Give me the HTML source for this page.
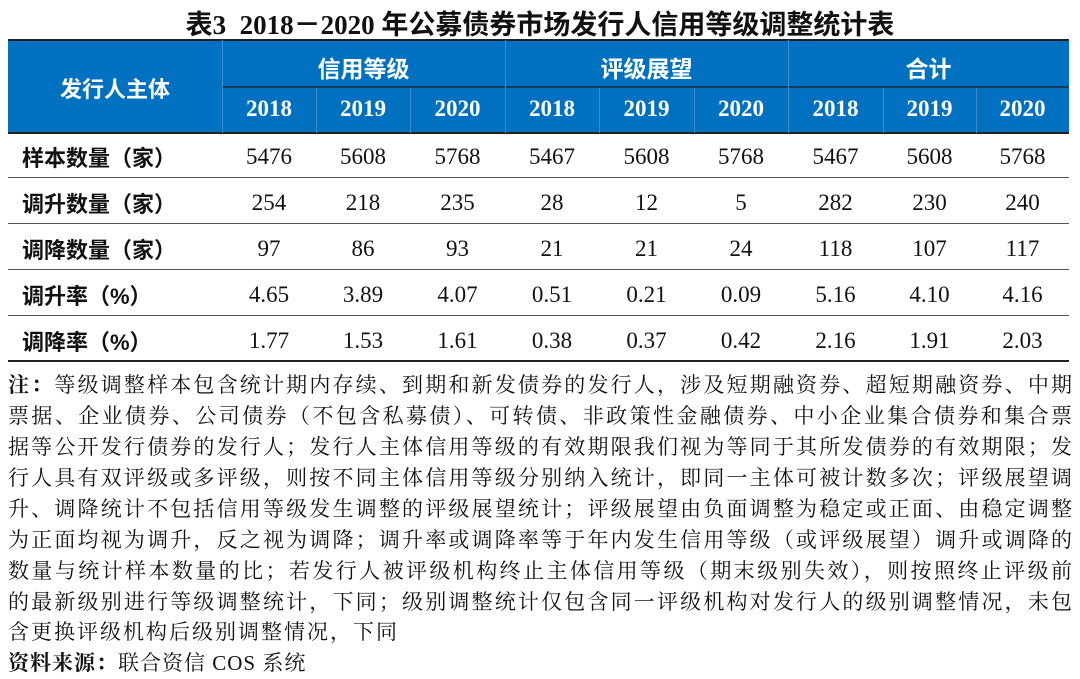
<!DOCTYPE html>
<html><head><meta charset="utf-8"><style>
body{margin:0;width:1080px;height:679px;background:#fff;position:relative;overflow:hidden}
.t{position:absolute;left:0;width:1080px;top:3px;text-align:center;font:bold 27px "Liberation Serif","Noto Sans CJK SC",sans-serif;color:#111}
.hb{position:absolute;left:8px;top:40px;width:1061px;height:93px;background:#0070c0}
.hl{position:absolute;height:2px;background:#222;left:8px;width:1061px}
.vl{position:absolute;width:1px;background:#3d8ad0}
.c{position:absolute;text-align:center;font-family:"Liberation Serif","Noto Serif CJK SC",serif;color:#111;font-size:23px}
.h{color:#fff;font-weight:bold;font-family:"Liberation Serif","Noto Sans CJK SC",sans-serif;font-size:23px}
.lab{position:absolute;left:22px;font:bold 22px "Liberation Sans","Noto Sans CJK SC",sans-serif;color:#111}
.n{position:absolute;left:8px;width:1064px;font:21px "Liberation Serif","Noto Serif CJK SC",serif;color:#111;text-align:justify;text-align-last:justify;white-space:nowrap;line-height:24px}
.u{width:auto;text-align-last:auto;letter-spacing:2px}
</style></head><body>
<div class="t">表3&nbsp; 2018－2020 年公募债券市场发行人信用等级调整统计表</div>
<div class="hb"></div>
<div class="hl" style="top:39px"></div>
<div class="hl" style="top:86px;left:222px;width:847px;background:#1a3a5c"></div>
<div class="hl" style="top:132px"></div>
<div class="vl" style="left:222px;top:40px;height:93px"></div>
<div class="vl" style="left:505px;top:40px;height:93px"></div>
<div class="vl" style="left:788px;top:40px;height:93px"></div>
<div class="vl" style="left:316px;top:88px;height:45px"></div>
<div class="vl" style="left:410px;top:88px;height:45px"></div>
<div class="vl" style="left:599px;top:88px;height:45px"></div>
<div class="vl" style="left:694px;top:88px;height:45px"></div>
<div class="vl" style="left:883px;top:88px;height:45px"></div>
<div class="vl" style="left:976px;top:88px;height:45px"></div>
<div class="c h" style="left:8px;width:214px;top:72px;font-size:22px">发行人主体</div>
<div class="c h" style="left:222px;width:283px;top:50px">信用等级</div>
<div class="c h" style="left:505px;width:283px;top:50px">评级展望</div>
<div class="c h" style="left:788px;width:281px;top:50px">合计</div>
<div id="yrs"></div>
<div class="hl" style="top:177px;height:1px;background:#555"></div>
<div class="hl" style="top:223px;height:1px;background:#555"></div>
<div class="hl" style="top:269px;height:1px;background:#555"></div>
<div class="hl" style="top:315px;height:1px;background:#555"></div>
<div class="hl" style="top:360px"></div>
<div id="rows"></div>
<div class="n" style="top:373px"><b>注：</b>等级调整样本包含统计期内存续、到期和新发债券的发行人，涉及短期融资券、超短期融资券、中期</div>
<div class="n" style="top:404px">票据、企业债券、公司债券（不包含私募债）、可转债、非政策性金融债券、中小企业集合债券和集合票</div>
<div class="n" style="top:435px">据等公开发行债券的发行人；发行人主体信用等级的有效期限我们视为等同于其所发债券的有效期限；发</div>
<div class="n" style="top:466px">行人具有双评级或多评级，则按不同主体信用等级分别纳入统计，即同一主体可被计数多次；评级展望调</div>
<div class="n" style="top:497px">升、调降统计不包括信用等级发生调整的评级展望统计；评级展望由负面调整为稳定或正面、由稳定调整</div>
<div class="n" style="top:528px">为正面均视为调升，反之视为调降；调升率或调降率等于年内发生信用等级（或评级展望）调升或调降的</div>
<div class="n" style="top:559px">数量与统计样本数量的比；若发行人被评级机构终止主体信用等级（期末级别失效），则按照终止评级前</div>
<div class="n" style="top:590px">的最新级别进行等级调整统计，下同；级别调整统计仅包含同一评级机构对发行人的级别调整情况，未包</div>
<div class="n u" style="top:620px">含更换评级机构后级别调整情况，下同</div>
<div class="n u" style="top:651px;letter-spacing:1px"><b>资料来源：</b>联合资信 COS 系统</div>
<script>
var xs=[222,316,410,505,599,694,788,883,976,1069];
var yrs=['2018','2019','2020'],h='';
for(var i=0;i<9;i++)h+='<div class="c h" style="left:'+xs[i]+'px;width:'+(xs[i+1]-xs[i])+'px;top:96px">'+yrs[i%3]+'</div>';
document.getElementById('yrs').innerHTML=h;
var R=[['样本数量（家）',5476,5608,5768,5467,5608,5768,5467,5608,5768],
['调升数量（家）',254,218,235,28,12,5,282,230,240],
['调降数量（家）',97,86,93,21,21,24,118,107,117],
['调升率（%）','4.65','3.89','4.07','0.51','0.21','0.09','5.16','4.10','4.16'],
['调降率（%）','1.77','1.53','1.61','0.38','0.37','0.42','2.16','1.91','2.03']];
var tops=[144,190,236,282,328];h='';
R.forEach(function(r,k){h+='<div class="lab" style="top:'+(tops[k]-3)+'px">'+r[0]+'</div>';
for(var i=0;i<9;i++)h+='<div class="c" style="left:'+xs[i]+'px;width:'+(xs[i+1]-xs[i])+'px;top:'+tops[k]+'px">'+r[i+1]+'</div>';});
document.getElementById('rows').innerHTML=h;
</script>
</body></html>
